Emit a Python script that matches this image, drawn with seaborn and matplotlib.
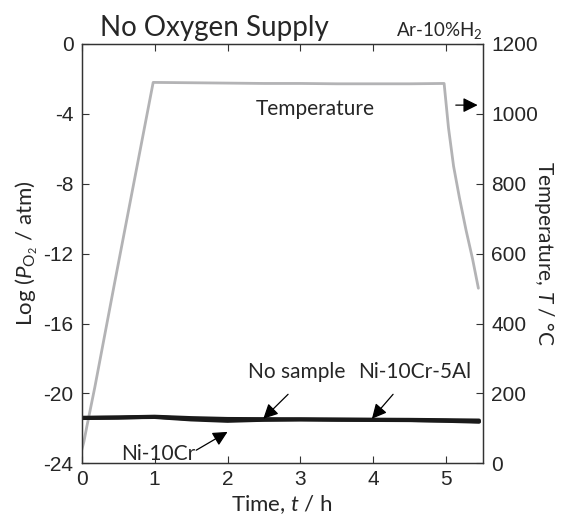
import numpy as np
import pandas as pd
import matplotlib
matplotlib.use('Agg')
import matplotlib.pyplot as plt
import seaborn as sns

# Температура печи (правая ось)
temp_t = [0.0, 0.03, 0.07, 0.18, 0.45, 0.98, 1.5, 2.0, 2.5, 3.0, 3.5, 4.0, 4.5, 4.97,
          5.03, 5.10, 5.18, 5.27, 5.36, 5.44]
temp_c = [38, 62, 105, 218, 515, 1090, 1089, 1088, 1087, 1087, 1086, 1086, 1086, 1087,
          960, 850, 760, 668, 585, 501]

# Log(P_O2) для трёх образцов
po2_t = [0.0, 0.5, 1.0, 1.5, 2.0, 2.5, 3.0, 3.5, 4.0, 4.5, 5.0, 5.45]
no_sample = [-21.38, -21.36, -21.32, -21.40, -21.45, -21.46, -21.47, -21.48, -21.49, -21.50, -21.52, -21.54]
ni10cr = [-21.40, -21.38, -21.36, -21.50, -21.58, -21.52, -21.50, -21.52, -21.53, -21.54, -21.56, -21.60]
ni10cr5al = [-21.42, -21.40, -21.34, -21.46, -21.52, -21.50, -21.49, -21.50, -21.51, -21.53, -21.58, -21.63]
series_names = ['No sample', 'Ni-10Cr', 'Ni-10Cr-5Al']

sns.set_style('ticks')
plt.rcParams['font.family'] = ['Liberation Sans', 'DejaVu Sans']
plt.rcParams['axes.unicode_minus'] = False
plt.rcParams['mathtext.fontset'] = 'custom'
plt.rcParams['mathtext.rm'] = 'Lato'
plt.rcParams['mathtext.it'] = 'Lato:italic'

po2 = pd.DataFrame({'t': po2_t * 3,
                    'logp': no_sample + ni10cr + ni10cr5al,
                    'sample': np.repeat(series_names, len(po2_t))})
temp = pd.DataFrame({'t': temp_t, 'T': temp_c})

fig = plt.figure(figsize=(5.62, 5.24), dpi=100)
ax = fig.add_axes([0.1454, 0.1158, 0.7136, 0.8003])
ax2 = ax.twinx()

sns.lineplot(data=temp, x='t', y='T', ax=ax2, color='#b3b3b5', lw=2.0)
sns.lineplot(data=po2, x='t', y='logp', units='sample', estimator=None, ax=ax,
             color='#1a1a1a', lw=2.6)
ax.set_zorder(ax2.get_zorder() + 1)
ax.patch.set_visible(False)

ax.set_xlim(0, 5.5)
ax.set_ylim(-24, 0)
ax2.set_ylim(0, 1200)
ax.set_xticks(range(6))
ax.set_yticks(range(-24, 1, 4))
ax2.set_yticks(range(0, 1201, 200))

for a in (ax, ax2):
    a.tick_params(direction='in', length=5, width=0.8, labelsize=15, color='#333333')
    for s in a.spines.values():
        s.set_linewidth(0.9)
        s.set_color('#333333')
ax.tick_params(axis='x', top=True, pad=5)
ax.tick_params(axis='y', pad=6)
ax2.tick_params(axis='y', pad=6)

lato = ['Lato', 'DejaVu Sans']
ax.set_xlabel('Time, $t$ / h', fontsize=16, family=lato, labelpad=3)
ax.set_ylabel(r'Log ($P_{\mathrm{O_2}}$ / atm)', fontsize=16, family=lato, labelpad=2)
ax2.set_ylabel('Temperature, $T$ / °C', fontsize=15, family=lato, rotation=270, labelpad=13)

ax.text(0.33, 1.008, 'No Oxygen Supply', transform=ax.transAxes, ha='center', va='bottom',
        fontsize=20, family=lato)
ax.text(1.0, 1.008, 'Ar-10%H$_2$', transform=ax.transAxes, ha='right', va='bottom',
        fontsize=13.5, family=lato)

arrow = dict(arrowstyle='-|>', color='black', lw=0.9, mutation_scale=22, shrinkA=0, shrinkB=0)
ax.text(3.2, -3.75, 'Temperature', ha='center', va='center', fontsize=15, family=lato)
ax.annotate('', xy=(5.43, -3.5), xytext=(5.13, -3.5), arrowprops=arrow)

ax.text(2.95, -18.8, 'No sample', ha='center', va='center', fontsize=15, family=lato)
ax.annotate('', xy=(2.49, -21.45), xytext=(2.83, -20.05), arrowprops=arrow)
ax.text(4.57, -18.8, 'Ni-10Cr-5Al', ha='center', va='center', fontsize=15, family=lato)
ax.annotate('', xy=(3.98, -21.45), xytext=(4.27, -20.05), arrowprops=arrow)
ax.text(1.05, -23.45, 'Ni-10Cr', ha='center', va='center', fontsize=15, family=lato)
ax.annotate('', xy=(2.0, -22.2), xytext=(1.57, -23.25), arrowprops=arrow)

fig.savefig('out.png', dpi=100)
